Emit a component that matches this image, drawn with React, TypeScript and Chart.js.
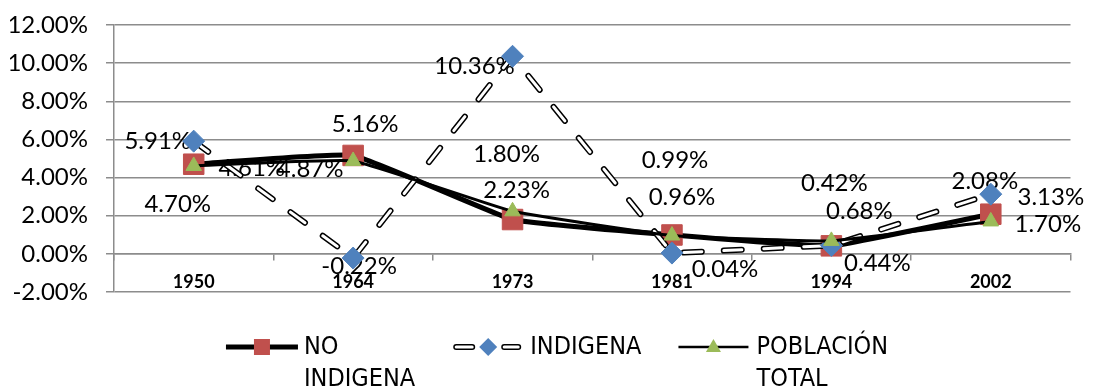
import React, { useEffect, useRef } from "react";
import { Chart, registerables } from "chart.js";

Chart.register(...registerables);

// ---------- data ----------
const categories = ["1950", "1964", "1973", "1981", "1994", "2002"];
const noIndigena = [4.7, 5.16, 1.8, 0.99, 0.42, 2.08];
const indigena = [5.91, -0.22, 10.36, 0.04, 0.44, 3.13];
const poblacionTotal = [4.61, 4.87, 2.23, 0.96, 0.68, 1.7];
const seriesNames = ["NO INDIGENA", "INDIGENA", "POBLACIÓN TOTAL"];
const yTicks = [-2, 0, 2, 4, 6, 8, 10, 12];

// ---------- styling (label placement in px relative to the point) ----------
const labelOffsets: Record<string, number[][]> = {
  "NO INDIGENA": [[-16, 40], [12, -31], [-6, -65], [3, -75], [3, -63], [-6, -33]],
  "INDIGENA": [[-36, 0], [6, 8], [-38, 10], [53, 16], [46, 18], [60, 3]],
  "POBLACIÓN TOTAL": [[58, 2], [-43, 8], [4, -21], [10, -38], [28, -30], [57, 3]],
};

const LABEL_FONT = '24px Lato, "Liberation Sans", sans-serif';
const LEGEND_FONT = '25px "Liberation Sans Narrow", "DejaVu Sans Condensed", "Liberation Sans", sans-serif';
const GRID = "#8c8c8c";
const RED = "#C0504D";
const BLUE = "#4F81BD";
const GREEN = "#9BBB59";

const valueLabelPlugin = {
  id: "valueLabels",
  beforeDatasetsDraw(chart: any) {
    const ctx = chart.ctx;
    ctx.save();
    ctx.font = LABEL_FONT;
    ctx.fillStyle = "#000";
    ctx.textAlign = "center";
    ctx.textBaseline = "middle";
    chart.data.datasets.forEach((ds: any, i: number) => {
      if (ds.isOutline) return;
      const offs = labelOffsets[ds.label];
      if (!offs) return;
      const meta = chart.getDatasetMeta(i);
      meta.data.forEach((pt: any, j: number) => {
        const v = ds.data[j] as number;
        ctx.fillText(v.toFixed(2) + "%", pt.x + offs[j][0], pt.y + offs[j][1]);
      });
    });
    ctx.restore();
  },
};

function wrapWords(ctx: CanvasRenderingContext2D, text: string, maxW: number) {
  const words = text.split(" ");
  const lines: string[] = [];
  let cur = "";
  words.forEach((w) => {
    const t = cur ? cur + " " + w : w;
    if (cur && ctx.measureText(t).width > maxW) {
      lines.push(cur);
      cur = w;
    } else cur = t;
  });
  if (cur) lines.push(cur);
  return lines;
}

function drawPill(ctx: CanvasRenderingContext2D, x1: number, x2: number, y: number) {
  ctx.lineCap = "round";
  ctx.strokeStyle = "#000";
  ctx.lineWidth = 6;
  ctx.beginPath();
  ctx.moveTo(x1, y);
  ctx.lineTo(x2, y);
  ctx.stroke();
  ctx.strokeStyle = "#fff";
  ctx.lineWidth = 3;
  ctx.beginPath();
  ctx.moveTo(x1, y);
  ctx.lineTo(x2, y);
  ctx.stroke();
}

function drawSymbol(ctx: CanvasRenderingContext2D, kind: number, x: number, y: number) {
  ctx.save();
  if (kind === 0) {
    ctx.strokeStyle = "#000";
    ctx.lineWidth = 5;
    ctx.lineCap = "butt";
    ctx.beginPath();
    ctx.moveTo(x, y);
    ctx.lineTo(x + 72, y);
    ctx.stroke();
    ctx.fillStyle = RED;
    ctx.fillRect(x + 36 - 8, y - 8, 16, 16);
  } else if (kind === 1) {
    drawPill(ctx, x + 4, x + 20, y);
    drawPill(ctx, x + 52, x + 66, y);
    ctx.fillStyle = BLUE;
    ctx.beginPath();
    ctx.moveTo(x + 36 - 9, y);
    ctx.lineTo(x + 36, y - 9);
    ctx.lineTo(x + 36 + 9, y);
    ctx.lineTo(x + 36, y + 9);
    ctx.closePath();
    ctx.fill();
  } else {
    ctx.strokeStyle = "#000";
    ctx.lineWidth = 2.5;
    ctx.beginPath();
    ctx.moveTo(x, y);
    ctx.lineTo(x + 70, y);
    ctx.stroke();
    ctx.fillStyle = GREEN;
    ctx.beginPath();
    ctx.moveTo(x + 35, y - 8);
    ctx.lineTo(x + 35 + 7.5, y + 5);
    ctx.lineTo(x + 35 - 7.5, y + 5);
    ctx.closePath();
    ctx.fill();
  }
  ctx.restore();
}

const legendPlugin = {
  id: "excelLegend",
  afterDraw(chart: any) {
    const ctx: CanvasRenderingContext2D = chart.ctx;
    ctx.save();
    ctx.font = LEGEND_FONT;
    const symbolW = 72;
    const textGap = 6;
    const itemGap = 37;
    const lineH = 32;
    const entries = chart.data.datasets
      .map((ds: any, i: number) => ({ ds, i }))
      .filter((e: any) => !e.ds.isOutline)
      .map((e: any, k: number) => {
        const lines = wrapWords(ctx, e.ds.label, 122);
        const tw = Math.max(...lines.map((l: string) => ctx.measureText(l).width));
        return { kind: k, lines, w: symbolW + textGap + tw };
      });
    const total = entries.reduce((s: number, e: any) => s + e.w, 0) + itemGap * (entries.length - 1);
    let x = chart.width / 2 - total / 2 + 10;
    const y = chart.chartArea.bottom + 55;
    ctx.textAlign = "left";
    ctx.textBaseline = "middle";
    entries.forEach((e: any) => {
      drawSymbol(ctx, e.kind, x, y);
      ctx.fillStyle = "#000";
      e.lines.forEach((l: string, li: number) => {
        ctx.fillText(l, x + symbolW + textGap, y + li * lineH);
      });
      x += e.w + itemGap;
    });
    ctx.restore();
  },
};

export default function App() {
  const canvasRef = useRef<HTMLCanvasElement | null>(null);

  useEffect(() => {
    document.documentElement.style.overflow = "hidden";
    document.body.style.overflow = "hidden";
    const canvas = canvasRef.current;
    if (!canvas) return;
    const chart = new Chart(canvas, {
      type: "line",
      data: {
        labels: categories,
        datasets: [
          {
            label: seriesNames[0],
            data: noIndigena,
            borderColor: "#000",
            borderWidth: 5,
            tension: 0.1,
            pointStyle: "rect",
            pointRadius: 14.5,
            pointBackgroundColor: RED,
            pointBorderColor: RED,
            pointBorderWidth: 1,
            order: 4,
          },
          {
            label: seriesNames[1] + " outline",
            isOutline: true,
            data: indigena,
            borderColor: "#000",
            borderWidth: 6,
            borderDash: [18, 22],
            borderCapStyle: "round",
            tension: 0,
            pointRadius: 0,
            order: 3,
          } as any,
          {
            label: seriesNames[1],
            data: indigena,
            borderColor: "#fff",
            borderWidth: 3,
            borderDash: [18, 22],
            borderCapStyle: "round",
            tension: 0,
            pointStyle: "rectRot",
            pointRadius: 11,
            pointBackgroundColor: BLUE,
            pointBorderColor: BLUE,
            pointBorderWidth: 1,
            order: 2,
          },
          {
            label: seriesNames[2],
            data: poblacionTotal,
            borderColor: "#000",
            borderWidth: 3,
            tension: 0.1,
            pointStyle: "triangle",
            pointRadius: 9,
            pointBackgroundColor: GREEN,
            pointBorderColor: GREEN,
            pointBorderWidth: 1,
            order: 1,
          },
        ],
      },
      options: {
        responsive: true,
        maintainAspectRatio: false,
        animation: false,
        layout: { padding: { left: 2, right: 4, top: 17, bottom: 95 } },
        plugins: {
          legend: { display: false },
          tooltip: { enabled: false },
        },
        scales: {
          x: {
            type: "category",
            position: { y: 0 } as any,
            offset: true,
            grid: {
              offset: true,
              drawOnChartArea: false,
              drawTicks: true,
              tickLength: 6,
              color: GRID,
              lineWidth: 1.5,
            },
            border: { display: true, color: GRID, width: 1.5 },
            ticks: {
              color: "#000",
              padding: 12,
              font: { family: "Lato", size: 18, weight: "bold" },
            },
          },
          y: {
            min: -2,
            max: 12,
            afterBuildTicks: (scale: any) => {
              scale.ticks = yTicks.map((v) => ({ value: v }));
            },
            afterFit: (scale: any) => {
              scale.width = 104;
              scale.paddingTop = 0;
              scale.paddingBottom = 0;
            },
            grid: {
              color: GRID,
              lineWidth: 1.5,
              drawTicks: true,
              tickLength: 8,
            },
            border: { display: true, color: GRID, width: 1.5 },
            ticks: {
              color: "#000",
              padding: 18,
              font: { family: "Lato", size: 24 },
              callback: (v: any) => Number(v).toFixed(2) + "%",
            },
          },
        },
      },
      plugins: [valueLabelPlugin, legendPlugin],
    });
    return () => chart.destroy();
  }, []);

  return (
    <div style={{ width: 1078, height: 379, position: "relative" }}>
      <canvas ref={canvasRef} />
    </div>
  );
}
